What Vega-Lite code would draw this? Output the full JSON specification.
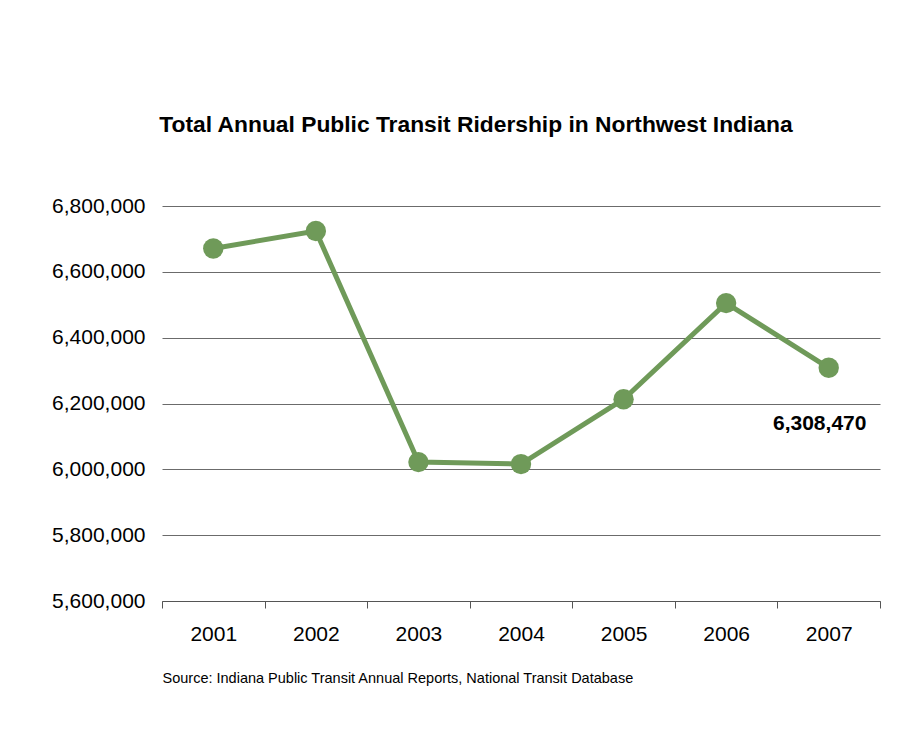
{
  "$schema": "https://vega.github.io/schema/vega-lite/v6.json",
  "width": 718,
  "height": 395,
  "autosize": {"type": "none"},
  "padding": {"left": 162, "top": 206, "right": 33, "bottom": 154},
  "background": "white",
  "config": {
    "font": "Liberation Sans",
    "view": {"stroke": null}
  },
  "title": {
    "text": "Total Annual Public Transit Ridership in Northwest Indiana",
    "fontSize": 22.8,
    "fontWeight": "bold",
    "font": "Liberation Sans",
    "color": "black",
    "anchor": "middle",
    "frame": "group",
    "dx": -45,
    "offset": 58
  },
  "data": {
    "values": [
      {"year": "2001", "riders": 6671000},
      {"year": "2002", "riders": 6724000},
      {"year": "2003", "riders": 6022000},
      {"year": "2004", "riders": 6016000},
      {"year": "2005", "riders": 6213000},
      {"year": "2006", "riders": 6505000},
      {"year": "2007", "riders": 6308470}
    ]
  },
  "encoding": {
    "x": {
      "field": "year",
      "type": "ordinal",
      "scale": {"type": "band", "paddingInner": 0, "paddingOuter": 0},
      "axis": {
        "title": "Source:  Indiana Public Transit Annual Reports, National Transit Database",
        "titleFont": "Liberation Sans",
        "titleFontSize": 14.5,
        "titleFontWeight": "normal",
        "titleColor": "black",
        "titleAnchor": "start",
        "titleAlign": "left",
        "titleBaseline": "middle",
        "titleX": 0,
        "titleY": 77,
        "labelAngle": 0,
        "labelFontSize": 21,
        "labelColor": "black",
        "labelPadding": 15,
        "tickBand": "extent",
        "tickSize": 7,
        "tickColor": "#555555",
        "domainColor": "#555555",
        "grid": false
      }
    },
    "y": {
      "field": "riders",
      "type": "quantitative",
      "scale": {"domain": [5600000, 6800000], "zero": false, "nice": false},
      "axis": {
        "title": null,
        "values": [5600000, 5800000, 6000000, 6200000, 6400000, 6600000, 6800000],
        "format": ",.0f",
        "labelFontSize": 21,
        "labelColor": "black",
        "labelPadding": 17,
        "ticks": false,
        "domain": false,
        "grid": true,
        "gridColor": "#6b6b6b",
        "gridOpacity": 1,
        "gridWidth": 1
      }
    }
  },
  "layer": [
    {
      "mark": {"type": "line", "color": "#6f9a59", "strokeWidth": 5}
    },
    {
      "mark": {"type": "point", "filled": true, "color": "#6f9a59", "opacity": 1, "size": 415}
    },
    {
      "transform": [{"filter": "datum.year == '2007'"}],
      "mark": {"type": "text", "fontSize": 21, "fontWeight": "bold", "color": "black", "dx": -9, "dy": 56, "align": "center", "baseline": "middle"},
      "encoding": {"text": {"field": "riders", "type": "quantitative", "format": ",.0f"}}
    }
  ]
}
